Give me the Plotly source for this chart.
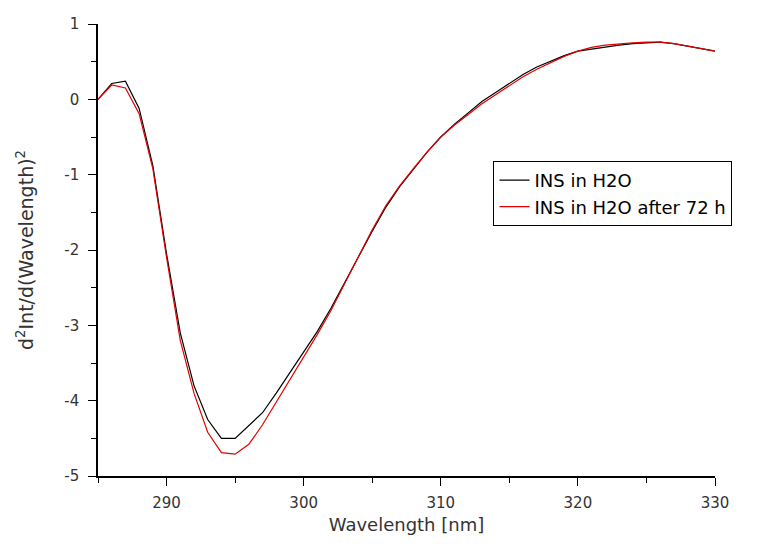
import plotly.graph_objects as go

wavelength = list(range(285, 331))

ins_h2o = [0.00, 0.21, 0.24, -0.12, -0.88, -2.05, -3.10, -3.80, -4.25, -4.50,
           -4.50, -4.33, -4.16, -3.90, -3.63, -3.36, -3.08, -2.77, -2.43, -2.08,
           -1.75, -1.43, -1.16, -0.93, -0.70, -0.50, -0.33, -0.18, -0.03, 0.09,
           0.21, 0.33, 0.43, 0.51, 0.58, 0.64, 0.67, 0.69, 0.72, 0.74,
           0.75, 0.76, 0.74, 0.71, 0.68, 0.64]

ins_h2o_72h = [0.00, 0.19, 0.15, -0.19, -0.92, -2.10, -3.20, -3.90, -4.42, -4.69,
               -4.71, -4.58, -4.32, -4.02, -3.72, -3.43, -3.12, -2.80, -2.44, -2.08,
               -1.73, -1.41, -1.15, -0.92, -0.70, -0.50, -0.34, -0.20, -0.06, 0.06,
               0.18, 0.30, 0.40, 0.49, 0.57, 0.64, 0.69, 0.72, 0.74, 0.75,
               0.76, 0.76, 0.74, 0.71, 0.67, 0.64]

series_names = ["INS in H2O", "INS in H2O after 72 h"]
x_tickvals = [290, 300, 310, 320, 330]
x_ticktext = ["290", "300", "310", "320", "330"]
y_tickvals = [-5, -4, -3, -2, -1, 0, 1]
y_ticktext = ["-5", "-4", "-3", "-2", "-1", "0", "1"]

FONT = "DejaVu Sans, Verdana, sans-serif"

fig = go.Figure()
fig.add_trace(go.Scatter(x=wavelength, y=ins_h2o, mode="lines", name=series_names[0],
                         line=dict(color="black", width=1.2)))
fig.add_trace(go.Scatter(x=wavelength, y=ins_h2o_72h, mode="lines", name=series_names[1],
                         line=dict(color="#e00000", width=1.2)))

axis_common = dict(
    showgrid=False, zeroline=False, showline=True, linecolor="black", linewidth=1.6,
    ticks="outside", ticklen=8, tickwidth=1.4, tickcolor="black",
    tickfont=dict(family=FONT, size=15, color="#333333"),
    ticklabeloverflow="allow",
    mirror=False,
)

fig.update_xaxes(
    range=[285, 330], tickvals=x_tickvals, ticktext=x_ticktext,
    minor=dict(ticks="outside", ticklen=5, tickwidth=1.4, tickcolor="black", dtick=5, tick0=285),
    title=dict(text="Wavelength [nm]", font=dict(family=FONT, size=18, color="#333333"), standoff=8),
    ticklabelstandoff=4,
    **axis_common,
)
fig.update_yaxes(
    range=[-5, 1], tickvals=y_tickvals, ticktext=y_ticktext,
    minor=dict(ticks="outside", ticklen=5, tickwidth=1.4, tickcolor="black", dtick=0.5, tick0=0),
    title=dict(text="d<sup>2</sup>Int/d(Wavelength)<sup>2</sup>",
               font=dict(family=FONT, size=19, color="#333333"), standoff=26),
    ticklabelstandoff=6,
    **axis_common,
)

fig.update_layout(
    width=758, height=540,
    margin=dict(l=90, r=51, t=7, b=72),
    paper_bgcolor="white", plot_bgcolor="white",
    showlegend=True,
    legend=dict(x=0.641, y=0.697, xanchor="left", yanchor="top",
                bordercolor="black", borderwidth=1, bgcolor="white",
                font=dict(family=FONT, size=18, color="black"),
                tracegroupgap=0),
)

fig.write_html("out.html")
